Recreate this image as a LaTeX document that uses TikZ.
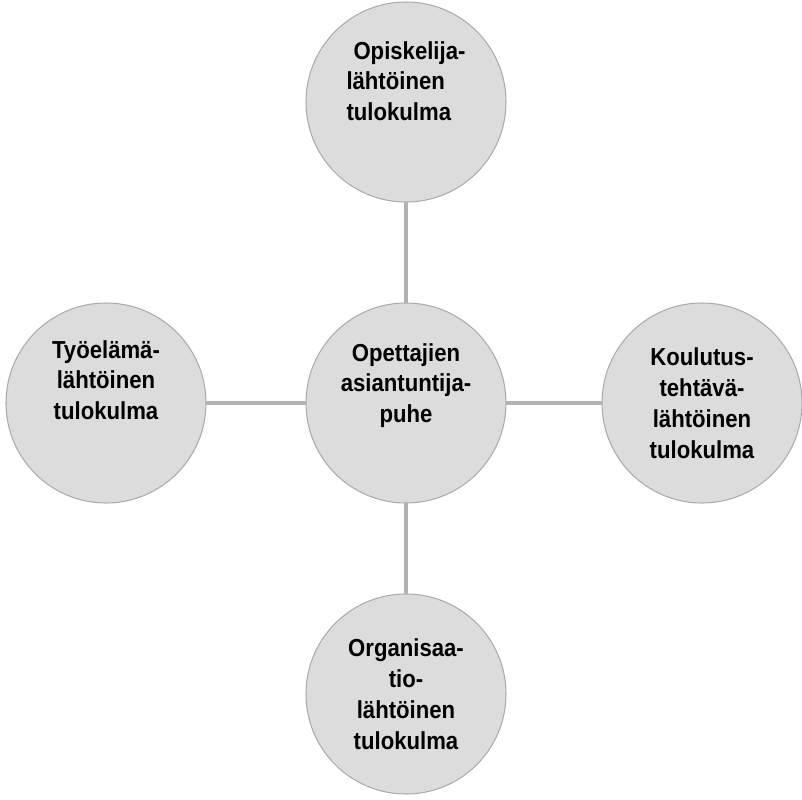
\documentclass[tikz,border=0pt]{standalone}
\usepackage{fontspec}
\setmainfont{Liberation Sans}[FakeStretch=0.9]
\usepackage{xcolor}
\usetikzlibrary{positioning}
\definecolor{circle_fill}{HTML}{DCDCDC}
\definecolor{circle_line}{HTML}{ABABAB}
\definecolor{link_line}{HTML}{B2B2B2}

\begin{document}
\begin{tikzpicture}[node distance=2cm,
        angle/.style={circle, draw=circle_line, line width=0.6pt, fill=circle_fill, minimum size=4cm, inner sep=0pt, outer sep=0pt, font=\bfseries\fontsize{14}{17.6}\selectfont},
        link/.style={draw=link_line, line width=0.08cm}]
        \useasboundingbox (-8.12,8.06) rectangle (7.92,-7.92);

        \node[angle, align=center] (teacher_talk) at (0,0) {Opettajien\\asiantuntija-\\puhe\\[0.18cm]\mbox{}};
        \node[angle, align=left] (student_view) [above=2.02cm of teacher_talk] {\hspace*{0.14cm}Opiskelija-\\lähtöinen\\tulokulma\\[0.22cm]\mbox{}};
        \node[angle, align=center] (work_view) [left=2cm of teacher_talk] {Työelämä-\\lähtöinen\\tulokulma\\[0.3cm]\mbox{}};
        \node[angle, align=center] (task_view) [right=1.92cm of teacher_talk] {Koulutus-\\tehtävä-\\lähtöinen\\tulokulma};
        \node[angle, align=center] (org_view) [below=1.82cm of teacher_talk] {Organisaa-\\tio-\\lähtöinen\\tulokulma};

        \draw[link] (teacher_talk) -- (student_view);
        \draw[link] (teacher_talk) -- (work_view);
        \draw[link] (teacher_talk) -- (task_view);
        \draw[link] (teacher_talk) -- (org_view);
    \end{tikzpicture}
\end{document}
